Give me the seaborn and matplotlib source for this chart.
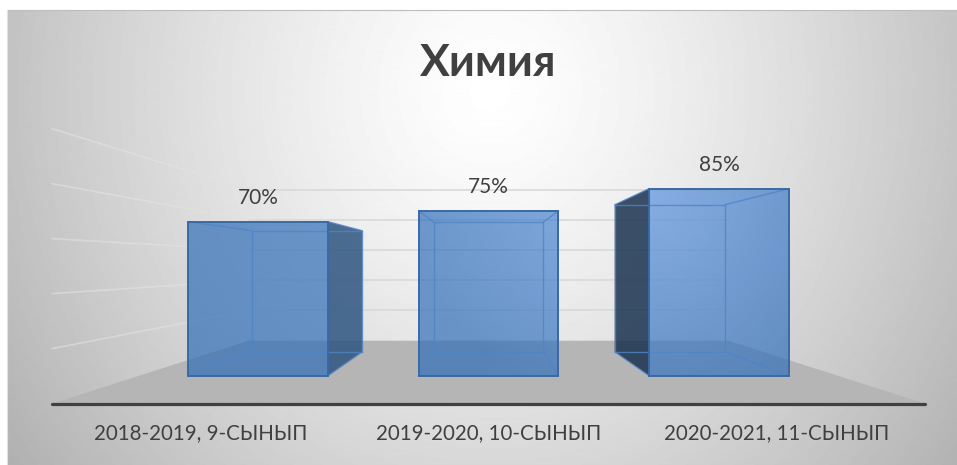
import numpy as np
import pandas as pd
import seaborn as sns
import matplotlib.pyplot as plt
from matplotlib.patches import Polygon

periods = ['2018-2019, 9-СЫНЫП', '2019-2020, 10-СЫНЫП', '2020-2021, 11-СЫНЫП']
percent = [70, 75, 85]
grid_levels = [20, 40, 60, 80, 100]
title = 'Химия'

# pixel size of one category / one percent, everything below hangs on this
PX_X = 230.5
PX_Y = 2.2
X0 = 258
Y0 = 375.7

# fake 3d: vanishing point and depth factors
VP_X = 1.0
VP_Y = 50.8
F_BACK_BAR = 0.786
F_WALL = 0.687
F_FRONT = 1.25
SIDE_L = -0.515
SIDE_R = 2.515

sns.set_theme(style='white')
plt.rcParams['font.family'] = ['Lato', 'Noto Sans', 'DejaVu Sans']

W, H = 957, 465
fig = plt.figure(figsize=(W / 100, H / 100), dpi=100)
fig.patch.set_facecolor('white')


def proj(x, y, f):
    return VP_X + (x - VP_X) * f, VP_Y + (y - VP_Y) * f


#background gradient
bg = fig.add_axes([8 / W, 0, 1 - 8 / W, 1 - 10 / H], zorder=0)
xx, yy = np.meshgrid(np.arange(8, W), np.arange(10, H))
d = np.sqrt(((xx - 490) / 480) ** 2 + ((yy - 90) / 520) ** 2)
bg.imshow(255 - 60 * d ** 1.3, cmap='gray', vmin=0, vmax=255, aspect='auto')
bg.axis('off')
fig.add_artist(plt.Line2D([8 / W, 1], [1 - 10 / H, 1 - 10 / H], color='#bdbdbd', lw=0.8))
fig.add_artist(plt.Line2D([7.5 / W, 7.5 / W], [0, 1 - 10 / H], color='#e2e2e2', lw=0.8))

ax = fig.add_axes([0, 0, 1, 1], zorder=1)
ax.patch.set_alpha(0)

df = pd.DataFrame({'period': periods, 'percent': percent})
sns.barplot(data=df, x='period', y='percent', color='#4472c4', width=0.607, ax=ax, zorder=4)

xlim = (-X0 / PX_X, (W - X0) / PX_X)
ylim = ((Y0 - H) / PX_Y, Y0 / PX_Y)

#floor and axis line
floor = [proj(SIDE_L, 0, F_FRONT), proj(SIDE_L, 0, F_WALL), proj(SIDE_R, 0, F_WALL), proj(SIDE_R, 0, F_FRONT)]
ax.add_patch(Polygon(floor, closed=True, facecolor='#b5b5b5', edgecolor='none', zorder=1))
ax.plot([floor[0][0], floor[3][0]], [floor[0][1], floor[3][1]], color='#404040', lw=2.3,
        solid_capstyle='round', zorder=5)

#gridlines on the back wall and left wall
for lev in grid_levels:
    a = proj(SIDE_L, lev, F_FRONT)
    b = proj(SIDE_L, lev, F_WALL)
    c = proj(SIDE_R, lev, F_WALL)
    ax.plot([a[0], b[0]], [a[1], b[1]], color='#e2e2e2', lw=1.2, alpha=0.6, zorder=1.5)
    ax.plot([b[0], c[0]], [b[1], c[1]], color='#d9d9d9', lw=1.2, zorder=1.5)

for i, patch in enumerate(ax.patches[:len(percent)]):
    x1 = patch.get_x()
    x2 = x1 + patch.get_width()
    top = patch.get_height()

    fl, ft = (x1, 0), (x1, top)
    fr, frt = (x2, 0), (x2, top)
    bl = proj(x1, 0, F_BACK_BAR)
    bt = proj(x1, top, F_BACK_BAR)
    br = proj(x2, 0, F_BACK_BAR)
    brt = proj(x2, top, F_BACK_BAR)

    # side faces only show when they stick out of the front rectangle
    if br[0] > x2:
        ax.add_patch(Polygon([fr, frt, brt, br], closed=True, facecolor='#2e5580', alpha=0.85,
                             edgecolor='none', zorder=2))
    if bl[0] < x1:
        ax.add_patch(Polygon([fl, ft, bt, bl], closed=True, facecolor='#1a3250', alpha=0.85,
                             edgecolor='none', zorder=2))

    # front face, lighter towards the upper right of the chart
    gx, gy = np.meshgrid(np.linspace(x1, x2, 60), np.linspace(0, top, 60))
    t = np.clip(1 - np.hypot((gx - 1.70) * PX_X, (gy - 84.4) * PX_Y) / 240, 0, 1)
    rgba = np.zeros(gx.shape + (4,))
    rgba[..., 0] = (44 + 43 * t) / 255
    rgba[..., 1] = (108 + 37 * t) / 255
    rgba[..., 2] = (184 + 39 * t) / 255
    rgba[..., 3] = 0.69
    im = ax.imshow(rgba, extent=(x1, x2, 0, top), origin='lower', aspect='auto', zorder=3)
    im.set_clip_path(patch)

    patch.set_facecolor('none')
    patch.set_edgecolor('#3a69a5')
    patch.set_linewidth(1.4)

    # inner edges of the box
    for p, q in [(bl, bt), (bt, brt), (brt, br), (br, bl), (fl, bl), (ft, bt), (fr, br), (frt, brt)]:
        ax.plot([p[0], q[0]], [p[1], q[1]], color='#4f84c6', lw=1.0, alpha=0.8, zorder=3.5)

    ax.text(i, top + 10.8, f'{percent[i]}%', ha='center', va='center', fontsize=15, color='#404040', zorder=6)

    lx, ly = proj(i, 0, F_FRONT)
    ax.text(lx, ly - 13.5, periods[i], ha='center', va='center', fontsize=14.8, color='#404040', zorder=6)

ax.text(1.0, (Y0 - 63) / PX_Y, title, ha='center', va='center', fontsize=32, fontweight='bold', color='#404040')

ax.set_xlim(xlim)
ax.set_ylim(ylim)
ax.set_xticks([])
ax.set_yticks([])
ax.set_xlabel('')
ax.set_ylabel('')
sns.despine(ax=ax, left=True, bottom=True)

plt.savefig('out.png', dpi=100)
